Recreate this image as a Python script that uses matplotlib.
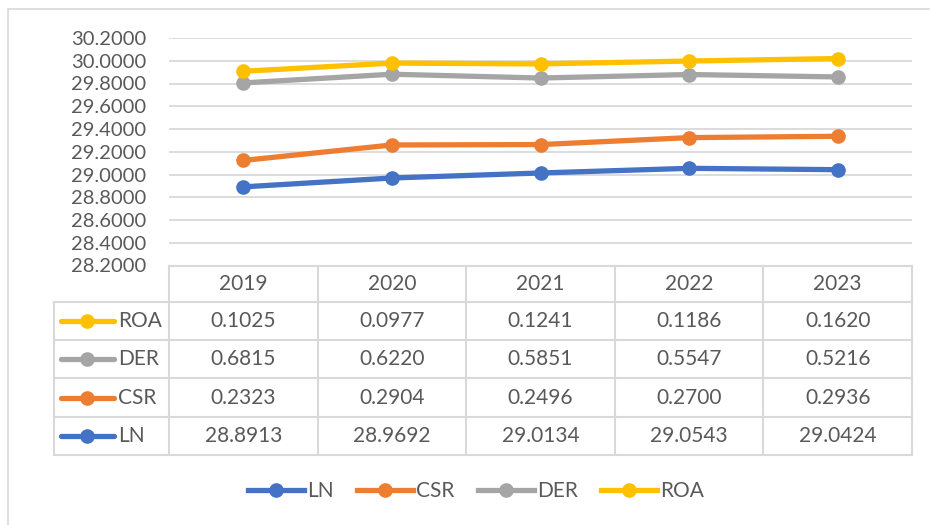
import numpy as np
import matplotlib
matplotlib.use('Agg')
import matplotlib.pyplot as plt
from matplotlib.lines import Line2D
from matplotlib.patches import Rectangle

years = ['2019', '2020', '2021', '2022', '2023']
series = ['LN', 'CSR', 'DER', 'ROA']
ln = [28.8913, 28.9692, 29.0134, 29.0543, 29.0424]
csr = [0.2323, 0.2904, 0.2496, 0.2700, 0.2936]
der = [0.6815, 0.6220, 0.5851, 0.5547, 0.5216]
roa = [0.1025, 0.0977, 0.1241, 0.1186, 0.1620]
colors = ['#4472C4', '#ED7D31', '#A5A5A5', '#FFC000']
yticks = [28.2, 28.4, 28.6, 28.8, 29.0, 29.2, 29.4, 29.6, 29.8, 30.0, 30.2]

plt.rcParams['font.family'] = ['Lato', 'DejaVu Sans']
txt = '#595959'
grid = '#D9D9D9'
fs = 15
W, H = 930, 525

def fx(x):
    return x / W

def fy(y):
    return 1 - y / H

fig = plt.figure(figsize=(9.3, 5.25), dpi=100)

# outer chart border
fig.add_artist(Rectangle((fx(8), fy(530)), fx(940 - 8), fy(9) - fy(530),
                         transform=fig.transFigure, fill=False, ec=grid, lw=1.2))

# plot area
left, right, top, bottom = 169, 912, 38, 265.5
ax = fig.add_axes([fx(left), fy(bottom), fx(right - left), fy(top) - fy(bottom)])
data = np.array([ln, csr, der, roa])
stacked = np.cumsum(data, axis=0)
x = np.arange(len(years))
for i, name in enumerate(series):
    ax.plot(x, stacked[i], color=colors[i], lw=3.8, marker='o', ms=9.5,
            solid_capstyle='round', label=name, zorder=3)
ax.set_xlim(-0.5, len(years) - 0.5)
ax.set_ylim(28.2, 30.2)
ax.set_yticks(yticks)
ax.set_yticklabels([f'{v:.4f}' for v in yticks], color=txt, fontsize=fs - 0.5)
ax.tick_params(axis='y', length=0, pad=16.5)
ax.set_xticks([])
ax.grid(axis='y', color=grid, lw=1.3)
ax.set_axisbelow(True)
for s in ax.spines.values():
    s.set_visible(False)

# data table
col_w = (right - left) / len(years)
row_y = [265.5, 302, 340, 378, 417, 455]
lkw = dict(transform=fig.transFigure, color=grid, lw=1.5)
fig.add_artist(Line2D([fx(left), fx(right)], [fy(row_y[0])] * 2, **lkw))
for r in row_y[1:]:
    fig.add_artist(Line2D([fx(54), fx(right)], [fy(r)] * 2, **lkw))
for j in range(len(years) + 1):
    xx = left + j * col_w
    fig.add_artist(Line2D([fx(xx)] * 2, [fy(row_y[0]), fy(row_y[-1])], **lkw))
fig.add_artist(Line2D([fx(54)] * 2, [fy(row_y[1]), fy(row_y[-1])], **lkw))

for j, yr in enumerate(years):
    fig.text(fx(left + (j + 0.5) * col_w), fy((row_y[0] + row_y[1]) / 2), yr,
             ha='center', va='center', color=txt, fontsize=fs)

order = [3, 2, 1, 0]  # ROA, DER, CSR, LN
for r, i in enumerate(order):
    yc = fy((row_y[r + 1] + row_y[r + 2]) / 2)
    fig.add_artist(Line2D([fx(61), fx(87), fx(114)], [yc] * 3, transform=fig.transFigure,
                          color=colors[i], lw=3.8, marker='o', ms=9.5, markevery=[1],
                          solid_capstyle='round'))
    fig.text(fx(118), yc, series[i], ha='left', va='center', color=txt, fontsize=fs)
    for j in range(len(years)):
        fig.text(fx(left + (j + 0.5) * col_w), yc, f'{data[i][j]:.4f}',
                 ha='center', va='center', color=txt, fontsize=fs)

# bottom legend
handles = [Line2D([0], [0], color=c, lw=3.8, marker='o', ms=9.5) for c in colors]
fig.legend(handles, series, loc='center', bbox_to_anchor=(fx(476), fy(491)), ncol=4,
           frameon=False, fontsize=fs, labelcolor=txt, handlelength=2.7,
           handletextpad=0.15, columnspacing=1.1)

fig.savefig('out.png', dpi=100)
